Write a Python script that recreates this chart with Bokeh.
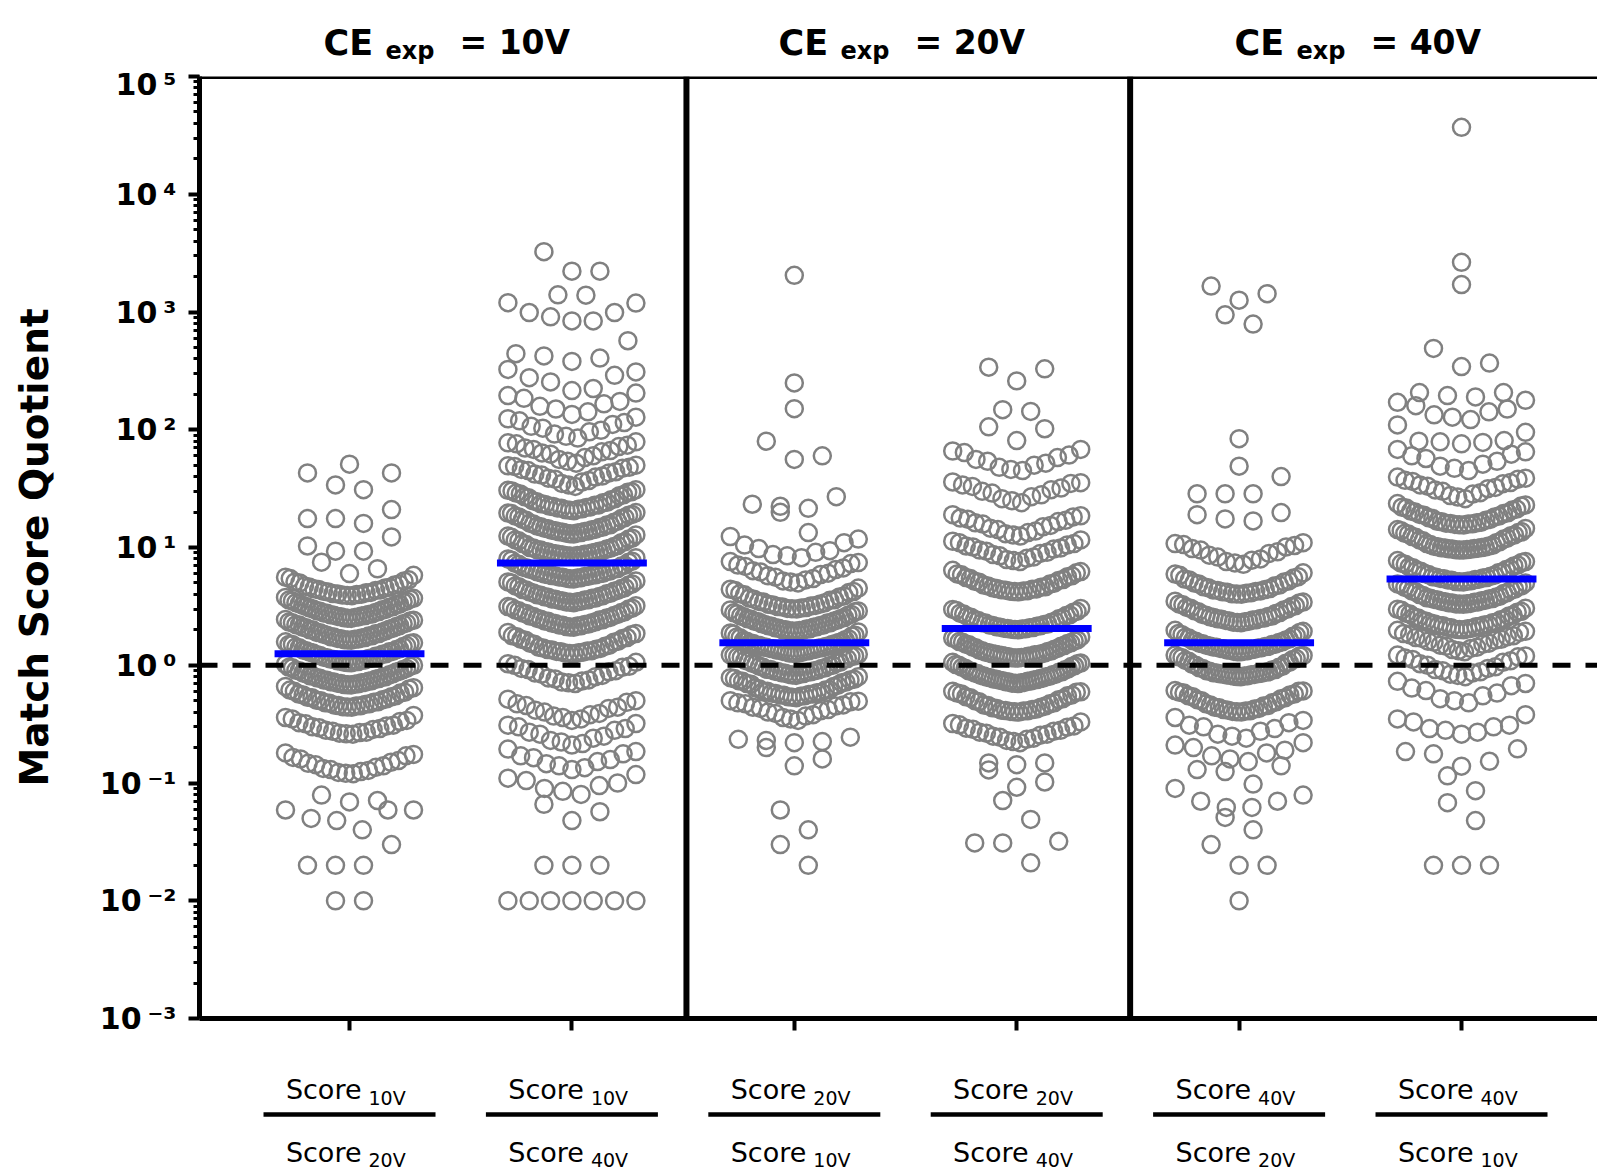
import numpy as np
from bokeh.plotting import figure
from bokeh.layouts import column
from bokeh.models import Range1d, Span, FixedTicker, CustomJSTickFormatter
from bokeh.core.properties import value
from bokeh.embed import file_html
from bokeh.resources import INLINE

# ---------------- data ----------------
panel_titles = ["10V", "20V", "40V"]
numerators = ["10V", "10V", "20V", "20V", "40V", "40V"]
denominators = ["20V", "40V", "10V", "40V", "20V", "10V"]
medians = [1.25, 7.4, 1.55, 2.05, 1.55, 5.4]
y_exponents = [5, 4, 3, 2, 1, 0, -1, -2, -3]

g1 = [0.01, 0.01, 0.02, 0.02, 0.02, 0.03, 0.04, 0.048, 0.05, 0.059, 0.059, 0.059, 0.069, 0.071, 0.079,
      0.12, 0.121, 0.123, 0.125, 0.128, 0.13, 0.133, 0.136, 0.14, 0.143, 0.147, 0.15, 0.155, 0.16, 0.165, 0.17, 0.175, 0.18,
      0.26, 0.262, 0.265, 0.268, 0.27, 0.275, 0.28, 0.285, 0.29, 0.295, 0.30, 0.305, 0.31, 0.318, 0.325, 0.333, 0.34, 0.35, 0.36, 0.375,
      0.44, 0.445, 0.45, 0.455, 0.46, 0.47, 0.475, 0.48, 0.49, 0.50, 0.51, 0.52, 0.53, 0.54, 0.55, 0.56, 0.57, 0.58, 0.59, 0.60, 0.615, 0.63, 0.645, 0.66,
      0.442, 0.452, 0.465, 0.485, 0.505, 0.535,
      0.68, 0.685, 0.69, 0.70, 0.71, 0.72, 0.73, 0.74, 0.75, 0.76, 0.775, 0.79, 0.80, 0.815, 0.83, 0.845, 0.86, 0.875, 0.89, 0.905, 0.92, 0.94, 0.96, 0.98, 1.0, 1.02,
      0.682, 0.695, 0.705, 0.715, 0.725, 0.745, 0.77, 0.785, 0.81, 0.85, 0.9, 0.95,
      1.05, 1.06, 1.07, 1.08, 1.1, 1.11, 1.13, 1.15, 1.17, 1.19, 1.21, 1.23, 1.25, 1.27, 1.29, 1.31, 1.33, 1.35, 1.38, 1.41, 1.44, 1.47, 1.5, 1.53, 1.55, 1.58,
      1.055, 1.075, 1.09, 1.12, 1.14, 1.16, 1.2, 1.24, 1.3, 1.36, 1.43, 1.5,
      1.63, 1.65, 1.67, 1.69, 1.72, 1.74, 1.77, 1.8, 1.83, 1.86, 1.89, 1.92, 1.96, 1.99, 2.02, 2.06, 2.1, 2.13, 2.17, 2.21, 2.25, 2.29, 2.33, 2.37, 2.41, 2.45,
      1.64, 1.66, 1.68, 1.7, 1.75, 1.78, 1.85, 1.9, 2.0, 2.08, 2.2, 2.3,
      2.5, 2.53, 2.57, 2.6, 2.64, 2.68, 2.72, 2.76, 2.81, 2.86, 2.91, 2.96, 3.01, 3.06, 3.11, 3.16, 3.22, 3.28, 3.34, 3.4, 3.46, 3.52, 3.58, 3.64, 3.7, 3.77,
      2.51, 2.55, 2.58, 2.62, 2.66, 2.7, 2.78, 2.88, 2.98, 3.14, 3.3, 3.5,
      3.9, 3.95, 4.0, 4.06, 4.12, 4.18, 4.25, 4.32, 4.39, 4.46, 4.54, 4.62, 4.7, 4.8, 4.9, 5.0, 5.1, 5.2, 5.32, 5.45, 5.6, 5.8,
      3.92, 3.98, 4.03, 4.15, 4.35, 4.6,
      6.0, 6.6, 7.5, 9.3, 9.3, 10.3, 12.3, 16.0, 17.6, 17.6, 21.0, 31.0, 34.0, 43.0, 43.0, 51.0]

g2 = [0.01, 0.01, 0.01, 0.01, 0.01, 0.01, 0.01, 0.02, 0.02, 0.02, 0.048, 0.057, 0.066,
      0.08, 0.085, 0.09, 0.095, 0.1, 0.105, 0.11, 0.118,
      0.13, 0.135, 0.14, 0.146, 0.152, 0.158, 0.164, 0.17, 0.177, 0.185, 0.194,
      0.21, 0.216, 0.223, 0.23, 0.24, 0.25, 0.26, 0.27, 0.28, 0.29, 0.30, 0.31, 0.32,
      0.34, 0.35, 0.36, 0.37, 0.38, 0.39, 0.40, 0.415, 0.43, 0.44, 0.455, 0.47, 0.485, 0.50, 0.515,
      0.70, 0.71, 0.72, 0.735, 0.75, 0.765, 0.78, 0.80, 0.82, 0.84, 0.86, 0.88, 0.90, 0.92, 0.94, 0.96, 0.98, 1.0, 1.03, 1.06,
      1.25, 1.27, 1.29, 1.31, 1.33, 1.35, 1.37, 1.39, 1.42, 1.45, 1.48, 1.51, 1.54, 1.57, 1.6, 1.63, 1.66, 1.69, 1.72, 1.75, 1.78, 1.82, 1.86, 1.9,
      1.26, 1.28, 1.3, 1.32, 1.36, 1.4,
      2.1, 2.13, 2.16, 2.19, 2.22, 2.26, 2.3, 2.34, 2.38, 2.42, 2.46, 2.5, 2.55, 2.6, 2.65, 2.7, 2.75, 2.8, 2.85, 2.9, 2.95, 3.0, 3.05, 3.1, 3.15, 3.2,
      2.11, 2.15, 2.2, 2.24, 2.28, 2.36, 2.44, 2.52, 2.62, 2.78,
      3.4, 3.45, 3.5, 3.55, 3.6, 3.66, 3.72, 3.78, 3.84, 3.9, 3.97, 4.04, 4.11, 4.18, 4.25, 4.32, 4.4, 4.48, 4.56, 4.64, 4.72, 4.8, 4.9, 5.0, 5.1, 5.2,
      3.42, 3.47, 3.52, 3.58, 3.63, 3.7, 3.81, 3.94, 4.08, 4.36,
      5.4, 5.47, 5.54, 5.62, 5.7, 5.78, 5.86, 5.95, 6.04, 6.13, 6.22, 6.32, 6.42, 6.52, 6.62, 6.73, 6.84, 6.95, 7.06, 7.2, 7.35, 7.5, 7.65, 7.8, 8.0, 8.2,
      5.42, 5.5, 5.58, 5.66, 5.74, 5.82, 5.9, 6.0, 6.27, 6.57,
      8.4, 8.5, 8.6, 8.7, 8.8, 8.95, 9.1, 9.25, 9.4, 9.55, 9.7, 9.85, 10.0, 10.2, 10.4, 10.6, 10.8, 11.0, 11.2, 11.4, 11.6, 11.8, 12.0, 12.2, 12.5, 12.8,
      8.45, 8.55, 8.65, 8.75, 8.85, 9.0, 9.15, 9.3, 9.5, 9.9,
      13.0, 13.2, 13.4, 13.6, 13.8, 14.0, 14.3, 14.6, 14.9, 15.2, 15.5, 15.8, 16.1, 16.4, 16.7, 17.0, 17.3, 17.6, 17.9, 18.2, 18.5, 18.8, 19.1, 19.4, 19.6, 19.8,
      13.1, 13.3, 13.5, 13.7, 13.9, 14.15, 14.45, 14.75, 15.0, 15.6,
      20.5, 20.9, 21.3, 21.7, 22.1, 22.5, 23.0, 23.5, 24.0, 24.5, 25.0, 25.5, 26.0, 26.5, 27.0, 27.5, 28.0, 28.5, 29.0, 29.4, 29.8, 30.2, 30.6, 31.0,
      20.7, 21.1, 21.5, 21.9, 22.3, 22.8, 23.2, 24.2,
      33, 34, 35, 36, 37, 38, 38.8, 39.6, 40.4, 41.2, 42, 43, 44, 45, 46, 47, 48, 48.8, 49.4, 50,
      52, 54, 56, 58, 60, 62, 63.5, 65, 66.5, 68, 70, 72, 74, 76, 77.5, 79,
      85, 88, 92, 96, 99, 103, 107, 111, 115, 119, 124, 128,
      135, 142, 150, 158, 166, 174, 185, 195, 205,
      215, 224, 255, 277, 290, 310, 325,
      380, 406, 424, 443, 570,
      840, 840, 910, 990, 990, 1190, 1200, 1390, 1400, 2220, 2220, 3250]

g3 = [0.02, 0.03, 0.04, 0.059, 0.14, 0.16, 0.20,
      0.22, 0.225, 0.23, 0.235, 0.245,
      0.34, 0.35, 0.36, 0.37, 0.38, 0.39, 0.40, 0.41, 0.42, 0.43, 0.44, 0.45, 0.46, 0.47, 0.48, 0.49, 0.495, 0.5,
      0.53, 0.54, 0.55, 0.56, 0.57, 0.58, 0.59, 0.60, 0.615, 0.63, 0.645, 0.66, 0.675, 0.69, 0.7, 0.71, 0.72, 0.73, 0.74, 0.75, 0.76, 0.77, 0.785, 0.8,
      0.535, 0.545, 0.555, 0.565, 0.575, 0.585, 0.6, 0.62,
      0.82, 0.835, 0.85, 0.865, 0.88, 0.895, 0.91, 0.925, 0.94, 0.96, 0.98, 1.0, 1.02, 1.04, 1.06, 1.08, 1.1, 1.12, 1.14, 1.16, 1.18, 1.19, 1.2, 1.21, 1.225, 1.24,
      0.825, 0.84, 0.855, 0.87, 0.885, 0.9, 0.92, 0.95, 0.99, 1.05,
      1.26, 1.28, 1.3, 1.32, 1.34, 1.36, 1.38, 1.4, 1.42, 1.44, 1.46, 1.48, 1.5, 1.52, 1.54, 1.56, 1.58, 1.6, 1.62, 1.65, 1.68, 1.71, 1.74, 1.77, 1.8, 1.84, 1.88, 1.92,
      1.265, 1.27, 1.29, 1.31, 1.33, 1.35, 1.37, 1.39, 1.41, 1.43, 1.47, 1.53,
      1.94, 1.97, 2.0, 2.03, 2.06, 2.1, 2.14, 2.18, 2.22, 2.26, 2.3, 2.34, 2.38, 2.42, 2.46, 2.5, 2.54, 2.58, 2.62, 2.66, 2.7, 2.74, 2.79, 2.84, 2.89, 2.95,
      1.95, 1.96, 1.98, 2.01, 2.04, 2.08, 2.12, 2.16, 2.2, 2.28, 2.36, 2.48,
      3.0, 3.06, 3.12, 3.18, 3.25, 3.32, 3.4, 3.48, 3.56, 3.64, 3.72, 3.8, 3.88, 3.96, 4.05, 4.14, 4.23, 4.32, 4.42, 4.52,
      3.02, 3.04, 3.09, 3.15, 3.22, 3.3, 3.44, 3.6,
      5.0, 5.1, 5.2, 5.3, 5.45, 5.6, 5.75, 5.9, 6.05, 6.2, 6.35, 6.5, 6.7, 6.9, 7.1, 7.3, 7.45, 7.6,
      8.2, 8.5, 8.7, 9.1, 9.4, 9.8, 10.5, 11.0, 11.8, 12.4,
      13.4, 19.9, 21.5, 22.4, 23.3, 27, 56, 60, 80, 151, 250, 2050]

g4 = [0.021, 0.031, 0.031, 0.032, 0.049, 0.071, 0.092, 0.102, 0.129, 0.143, 0.148, 0.148,
      0.22, 0.225, 0.23, 0.235, 0.24, 0.245, 0.25, 0.255, 0.26, 0.265, 0.27, 0.275, 0.28, 0.286, 0.292, 0.298, 0.305, 0.312, 0.32, 0.33,
      0.40, 0.405, 0.41, 0.415, 0.42, 0.43, 0.44, 0.45, 0.46, 0.47, 0.48, 0.49, 0.5, 0.51, 0.52, 0.53, 0.54, 0.55, 0.56, 0.57, 0.58, 0.59, 0.595, 0.6,
      0.402, 0.408, 0.412, 0.425, 0.435, 0.455,
      0.70, 0.71, 0.72, 0.73, 0.74, 0.75, 0.76, 0.77, 0.78, 0.79, 0.8, 0.81, 0.82, 0.83, 0.84, 0.85, 0.86, 0.87, 0.88, 0.89, 0.9, 0.915, 0.93, 0.945, 0.96, 0.975, 0.99, 1.0, 1.015, 1.03, 1.045, 1.06,
      0.702, 0.705, 0.715, 0.725, 0.735, 0.745, 0.755, 0.765, 0.785, 0.805,
      1.15, 1.165, 1.18, 1.195, 1.21, 1.225, 1.24, 1.255, 1.27, 1.29, 1.31, 1.33, 1.35, 1.37, 1.39, 1.41, 1.43, 1.45, 1.47, 1.49, 1.51, 1.53, 1.55, 1.57, 1.59, 1.61, 1.64, 1.67, 1.7, 1.74,
      1.155, 1.16, 1.17, 1.19, 1.2, 1.22, 1.23, 1.25, 1.28, 1.32,
      2.0, 2.03, 2.06, 2.09, 2.12, 2.16, 2.2, 2.24, 2.28, 2.32, 2.36, 2.4, 2.44, 2.48, 2.52, 2.56, 2.6, 2.64, 2.68, 2.72, 2.77, 2.82, 2.87, 2.92, 2.98, 3.04,
      2.01, 2.02, 2.04, 2.05, 2.08, 2.1, 2.14, 2.18, 2.22, 2.3,
      4.2, 4.27, 4.34, 4.41, 4.48, 4.56, 4.64, 4.72, 4.8, 4.89, 4.98, 5.07, 5.16, 5.25, 5.35, 5.45, 5.55, 5.65, 5.75, 5.86, 5.97, 6.1, 6.25, 6.4,
      4.22, 4.25, 4.3, 4.38, 4.45, 4.6,
      7.6, 7.75, 7.9, 8.1, 8.3, 8.5, 8.7, 8.9, 9.1, 9.3, 9.5, 9.7, 9.9, 10.1, 10.3, 10.5, 10.8, 11.0, 11.3, 11.6,
      12.5, 12.8, 13.1, 13.4, 13.8, 14.2, 14.6, 15.0, 15.4, 15.8, 16.2, 16.6, 17.0, 17.4, 17.8, 18.2, 18.6, 19.0,
      24, 25, 26, 27, 28, 29, 30, 31, 32, 33, 34, 35, 35.5, 36,
      45, 46, 48, 50, 52, 54, 56, 58, 61, 64, 66, 68,
      81, 102, 106, 143, 148, 260, 329, 340]

g5 = [0.01, 0.02, 0.02, 0.03, 0.04, 0.051, 0.062, 0.062, 0.07, 0.07, 0.079, 0.09, 0.098, 0.125, 0.13, 0.14,
      0.152, 0.16, 0.17, 0.18, 0.19, 0.2, 0.21, 0.22,
      0.24, 0.25, 0.26, 0.275, 0.29, 0.3, 0.31, 0.325, 0.34, 0.36,
      0.40, 0.405, 0.41, 0.42, 0.43, 0.44, 0.45, 0.46, 0.47, 0.48, 0.49, 0.5, 0.51, 0.52, 0.53, 0.54, 0.55, 0.56, 0.57, 0.58, 0.59, 0.6, 0.605, 0.61,
      0.402, 0.408, 0.415, 0.425, 0.435, 0.455,
      0.80, 0.81, 0.82, 0.83, 0.84, 0.85, 0.86, 0.87, 0.88, 0.89, 0.9, 0.92, 0.94, 0.96, 0.98, 1.0, 1.02, 1.04, 1.06, 1.08, 1.1, 1.12, 1.14, 1.16, 1.18, 1.2, 1.21, 1.22,
      0.802, 0.805, 0.815, 0.825, 0.835, 0.845, 0.855, 0.865, 0.91, 0.95,
      1.3, 1.32, 1.34, 1.36, 1.38, 1.4, 1.42, 1.44, 1.46, 1.48, 1.5, 1.52, 1.54, 1.56, 1.58, 1.6, 1.62, 1.64, 1.67, 1.7, 1.73, 1.76, 1.79, 1.82, 1.86, 1.9, 1.94, 1.98,
      1.305, 1.31, 1.33, 1.35, 1.37, 1.39, 1.41, 1.43, 1.45, 1.51,
      2.3, 2.34, 2.38, 2.42, 2.46, 2.5, 2.54, 2.58, 2.62, 2.66, 2.7, 2.75, 2.8, 2.85, 2.9, 2.95, 3.0, 3.05, 3.1, 3.15, 3.2, 3.26, 3.32, 3.38, 3.44, 3.5,
      2.31, 2.32, 2.36, 2.4, 2.44, 2.48, 2.52, 2.6,
      4.0, 4.08, 4.16, 4.24, 4.32, 4.4, 4.48, 4.56, 4.64, 4.72, 4.8, 4.9, 5.0, 5.1, 5.2, 5.3, 5.4, 5.5, 5.65, 5.8, 5.95, 6.1,
      4.02, 4.04, 4.12, 4.2, 4.28, 4.36,
      7.2, 7.4, 7.6, 7.8, 8.0, 8.3, 8.6, 8.9, 9.2, 9.5, 9.8, 10.1, 10.4, 10.6, 10.8, 11.0,
      16.8, 17.5, 19, 19.8, 28.6, 28.6, 28.6, 40, 49, 84, 790, 947, 1260, 1430, 1660]

g6 = [0.02, 0.02, 0.02, 0.048, 0.068, 0.086, 0.115, 0.139, 0.153, 0.177, 0.185, 0.195,
      0.26, 0.27, 0.28, 0.29, 0.3, 0.31, 0.33, 0.35, 0.38,
      0.48, 0.5, 0.52, 0.55, 0.58, 0.61, 0.64, 0.67, 0.7, 0.73,
      0.80, 0.82, 0.84, 0.86, 0.88, 0.9, 0.92, 0.94, 0.97, 1.0, 1.03, 1.06, 1.09, 1.12, 1.15, 1.18, 1.2, 1.22,
      1.3, 1.33, 1.36, 1.39, 1.42, 1.45, 1.48, 1.51, 1.54, 1.57, 1.6, 1.63, 1.66, 1.69, 1.72, 1.75, 1.78, 1.82, 1.86, 1.9, 1.94, 1.98,
      2.0, 2.04, 2.08, 2.12, 2.16, 2.2, 2.24, 2.28, 2.32, 2.36, 2.4, 2.44, 2.48, 2.52, 2.57, 2.62, 2.67, 2.72, 2.77, 2.82, 2.87, 2.93, 2.99, 3.05,
      2.01, 2.02, 2.06, 2.1, 2.14, 2.18, 2.22, 2.3,
      3.3, 3.35, 3.4, 3.45, 3.5, 3.56, 3.62, 3.68, 3.74, 3.8, 3.86, 3.92, 3.99, 4.06, 4.13, 4.2, 4.27, 4.34, 4.42, 4.5, 4.58, 4.66, 4.74, 4.82, 4.91, 5.0,
      3.31, 3.32, 3.33, 3.37, 3.42, 3.47, 3.53, 3.59, 3.65, 3.71,
      5.1, 5.18, 5.26, 5.34, 5.42, 5.5, 5.6, 5.7, 5.8, 5.9, 6.0, 6.1, 6.2, 6.3, 6.4, 6.5, 6.62, 6.74, 6.86, 6.98, 7.1, 7.22, 7.34, 7.46, 7.6, 7.75,
      5.12, 5.14, 5.22, 5.3, 5.38, 5.46, 5.55, 5.65,
      9.5, 9.6, 9.7, 9.8, 9.9, 10.0, 10.15, 10.3, 10.45, 10.6, 10.8, 11.0, 11.2, 11.4, 11.6, 11.8, 12.0, 12.2, 12.4, 12.6, 12.8, 13.0, 13.2, 13.4, 13.6, 13.9, 14.2, 14.5,
      9.52, 9.55, 9.65, 9.75, 9.85, 9.95, 10.1, 10.25,
      15.5, 15.8, 16.1, 16.4, 16.7, 17.0, 17.3, 17.6, 17.9, 18.2, 18.5, 18.8, 19.1, 19.4, 19.7, 20.0, 20.4, 20.8, 21.2, 21.6, 22.0, 22.5, 23.0, 23.6,
      15.6, 15.7, 15.9, 16.0, 16.25, 16.55,
      26, 26.8, 27.6, 28.4, 29.2, 30, 30.8, 31.6, 32.4, 33.2, 34, 34.8, 35.6, 36.4, 37.2, 38, 38.8, 39.6,
      45, 47, 49, 51, 54, 57, 60, 62, 65, 68,
      76, 78, 79, 80, 81, 95, 110,
      122, 128, 134, 142, 150, 160, 171, 178,
      190, 195, 207, 207,
      344, 368, 491, 1710, 2640, 37000]

groups = [g1, g2, g3, g4, g5, g6]

# ---------------- layout ----------------
W_FIG = 1597
TOP_H = 66                 # title strip
MAIN_H = 974               # main plot (frame from page y 76 to 1018)
BOT_H = 130                # category label strip
MB_L, MB_T, MB_B = 199, 10, 22
UNIT_PX = 222.4
X0 = -0.6745
X1 = X0 + (W_FIG - MB_L) / UNIT_PX


def xd(px):
    return X0 + (px - MB_L) / UNIT_PX


BIN_H = 0.185
SLOT = 28 / UNIT_PX
HALF_W = 64 / UNIT_PX


def swarm(vals):
    v = np.sort(np.asarray(vals, dtype=float))
    lv = np.log10(v)
    off = np.zeros(len(v))
    i, n = 0, len(v)
    while i < n:
        j = i
        while j < n and lv[j] < lv[i] + BIN_H:
            j += 1
        m = j - i
        s = SLOT if m < 2 else min(SLOT, 2 * HALF_W / (m - 1))
        slots = [(k - (m - 1) / 2) * s for k in range(m)]
        left = sorted([t for t in slots if t < -1e-9], reverse=True)
        right = sorted([t for t in slots if t > 1e-9])
        order = [t for t in slots if abs(t) <= 1e-9]
        side = 0
        while left and right:
            if side == 0:
                order += [right.pop(0), left.pop(0)]
            else:
                order += [left.pop(0), right.pop(0)]
            side ^= 1
        off[i:j] = order
        i = j
    return v, off


xr = Range1d(X0, X1)


def strip(height):
    s = figure(width=W_FIG, height=height, x_range=xr,
               y_range=Range1d(height, 0), output_backend="svg", toolbar_location=None,
               title=None, x_axis_location=None, y_axis_location=None,
               min_border_left=MB_L, min_border_right=0, min_border_top=0, min_border_bottom=0)
    s.outline_line_color = None
    s.xgrid.visible = False
    s.ygrid.visible = False
    return s


# ---- main plot ----
p = figure(width=W_FIG, height=MAIN_H, x_range=xr, y_range=Range1d(1e-3, 1e5),
           y_axis_type="log", output_backend="svg", toolbar_location=None, title=None,
           min_border_left=MB_L, min_border_right=0, min_border_top=MB_T, min_border_bottom=MB_B)
p.outline_line_color = None
p.xgrid.visible = False
p.ygrid.visible = False

p.xaxis.ticker = FixedTicker(ticks=list(range(len(groups))))
p.xaxis.formatter = CustomJSTickFormatter(code="return ''")
p.xaxis.major_label_text_font_size = "2px"
p.xaxis.major_label_standoff = 0
p.xaxis.major_tick_out = 12
p.xaxis.major_tick_in = 0
p.xaxis.major_tick_line_width = 4
p.xaxis.minor_tick_line_color = None
p.xaxis.axis_line_width = 5

sup = {"-": "\u207B", "0": "\u2070", "1": "\u00B9", "2": "\u00B2", "3": "\u00B3", "4": "\u2074",
       "5": "\u2075", "6": "\u2076", "7": "\u2077", "8": "\u2078", "9": "\u2079"}
tick_text = {str(e): "10\u2009" + "".join(sup[c] for c in str(e)) for e in y_exponents}

p.yaxis.ticker.num_minor_ticks = 10
p.yaxis.formatter = CustomJSTickFormatter(args=dict(lab=tick_text), code="""
const e = String(Math.round(Math.log10(tick)));
return (e in lab) ? lab[e] : '';
""")
p.yaxis.major_label_text_font = "DejaVu Sans"
p.yaxis.major_label_text_font_style = "bold"
p.yaxis.major_label_text_font_size = "30px"
p.yaxis.major_label_text_color = "black"
p.yaxis.major_label_standoff = 12
p.yaxis.major_tick_out = 11
p.yaxis.major_tick_in = 0
p.yaxis.minor_tick_out = 6
p.yaxis.minor_tick_in = 0
p.yaxis.major_tick_line_width = 4
p.yaxis.minor_tick_line_width = 3
p.yaxis.axis_line_width = 5
p.yaxis.axis_label = "Match Score Quotient"
p.yaxis.axis_label_text_font = "DejaVu Sans"
p.yaxis.axis_label_text_font_style = "bold"
p.yaxis.axis_label_text_font_size = "39px"
p.yaxis.axis_label_text_color = "black"
p.yaxis.axis_label_standoff = 40

# points
xs, ys = [], []
for gi, g in enumerate(groups):
    v, off = swarm(g)
    xs.extend(gi + off)
    ys.extend(v)
p.scatter(x=xs, y=ys, marker="circle", size=17, fill_color=None,
          line_color="#808080", line_width=2.5)

# medians
p.segment(x0=[i - 0.337 for i in range(len(medians))], x1=[i + 0.337 for i in range(len(medians))],
          y0=medians, y1=medians, line_color="#0000FF", line_width=7)

# frame lines
p.add_layout(Span(location=1e5, dimension="width", line_color="black", line_width=5))
for loc in [1.515, 3.51]:
    p.add_layout(Span(location=loc, dimension="height", line_color="black", line_width=6))
p.add_layout(Span(location=1, dimension="width", line_color="black", line_width=5, line_dash="18 15"))

# ---- title strip ----
top = strip(TOP_H)
title_left_px = [323, 778, 1234]
tl = [xd(v) for v in title_left_px]
top.text(x=tl, y=[42] * 3, text=["CE"] * 3, text_font=value("DejaVu Sans"), text_font_style="bold",
         text_font_size=value("35px"), text_align="left", text_baseline="alphabetic", text_color="black")
top.text(x=[v + 62 / UNIT_PX for v in tl], y=[50] * 3, text=["exp"] * 3, text_font=value("DejaVu Sans"),
         text_font_style="bold", text_font_size=value("24px"), text_align="left",
         text_baseline="alphabetic", text_color="black")
top.text(x=[v + 136 / UNIT_PX for v in tl], y=[42] * 3, text=["= " + t for t in panel_titles],
         text_font=value("DejaVu Sans"), text_font_style="bold", text_font_size=value("33px"),
         text_align="left", text_baseline="alphabetic", text_color="black")

# ---- category label strip (local y = page y - 1040) ----
bot = strip(BOT_H)
Y0 = TOP_H + MAIN_H
idx = list(range(len(numerators)))
for subs, base_py, sub_py in [(numerators, 1089, 1097), (denominators, 1152, 1159)]:
    bot.text(x=[i + 12 / UNIT_PX for i in idx], y=[base_py - Y0] * len(idx), text=["Score"] * len(idx),
             text_font=value("DejaVu Sans"), text_font_size=value("27px"), text_align="right",
             text_baseline="alphabetic", text_color="black")
    bot.text(x=[i + 19 / UNIT_PX for i in idx], y=[sub_py - Y0] * len(idx), text=subs,
             text_font=value("DejaVu Sans"), text_font_size=value("19px"), text_align="left",
             text_baseline="alphabetic", text_color="black")
bot.segment(x0=[i - 86 / UNIT_PX for i in idx], x1=[i + 86 / UNIT_PX for i in idx],
            y0=[1114 - Y0] * len(idx), y1=[1114 - Y0] * len(idx), line_color="black", line_width=4.5)

layout = column(top, p, bot, spacing=0)
open("out.html", "w").write(file_html(layout, INLINE))
